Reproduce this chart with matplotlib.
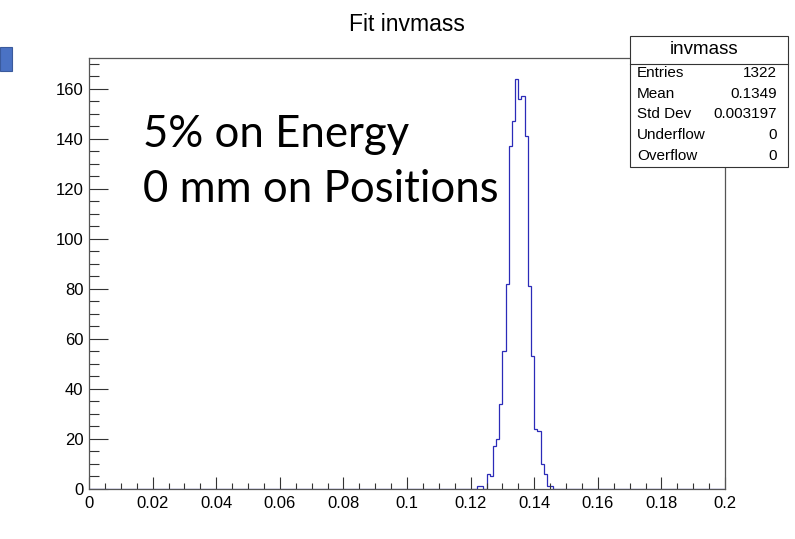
import numpy as np
import matplotlib.pyplot as plt
from matplotlib.ticker import MultipleLocator
from matplotlib.patches import Rectangle

# histogram: 200 bins from 0 to 0.2, only bins near the peak are filled
n_bins = 200
x_low, x_high = 0.0, 0.2
first_filled = 0.122
counts_peak = [1, 1, 0, 6, 5, 17, 20, 34, 55, 82, 137, 147, 164,
               156, 157, 141, 81, 53, 24, 23, 10, 6, 1, 1]

x_ticks = [0, 0.02, 0.04, 0.06, 0.08, 0.1, 0.12, 0.14, 0.16, 0.18, 0.2]
x_tick_labels = ['0', '0.02', '0.04', '0.06', '0.08', '0.1', '0.12',
                 '0.14', '0.16', '0.18', '0.2']
y_ticks = [0, 20, 40, 60, 80, 100, 120, 140, 160]

stat_names = ['Entries', 'Mean', 'Std Dev', 'Underflow', 'Overflow']
stat_values = ['1322', '0.1349', '0.003197', '0', '0']

edges = np.linspace(x_low, x_high, n_bins + 1)
counts = np.zeros(n_bins)
i0 = int(round((first_filled - x_low) / (x_high - x_low) * n_bins))
counts[i0:i0 + len(counts_peak)] = counts_peak

W, H = 795, 539
fig = plt.figure(figsize=(W / 100, H / 100), dpi=100)
ax = fig.add_axes([89 / W, 1 - 489 / H, (725 - 89) / W, (489 - 58) / H])

ax.stairs(counts, edges, color='#2b2bb8', linewidth=0.9)

ax.set_xlim(x_low, x_high)
ax.set_ylim(0, 172.3)

ax.set_xticks(x_ticks)
ax.set_xticklabels(x_tick_labels)
ax.set_yticks(y_ticks)
ax.xaxis.set_minor_locator(MultipleLocator(0.005))
ax.yaxis.set_minor_locator(MultipleLocator(5))

for lab in ax.get_xticklabels() + ax.get_yticklabels():
    lab.set_family('Liberation Sans')
    lab.set_fontsize(12)

ax.tick_params(axis='x', which='major', direction='in', length=8.6, width=0.8,
               color='#333333', pad=5)
ax.tick_params(axis='x', which='minor', direction='in', length=4.3, width=0.8,
               color='#333333')
ax.tick_params(axis='y', which='major', direction='in', length=13.7, width=0.8,
               color='#333333', pad=4)
ax.tick_params(axis='y', which='minor', direction='in', length=7, width=0.8,
               color='#333333')
for s in ax.spines.values():
    s.set_color('#555555')
    s.set_linewidth(0.9)

# title
fig.text(407 / W, 1 - 31 / H, 'Fit invmass', ha='center', va='baseline',
         fontsize=16.5, family='Liberation Sans')

# overlay text
fig.text(143 / W, 1 - 147 / H, '5% on Energy', ha='left', va='baseline',
         fontsize=31.5, family='Lato')
fig.text(143 / W, 1 - 202 / H, '0 mm on Positions', ha='left', va='baseline',
         fontsize=31.5, family='Lato')

# stats box
bx0, bx1, by0, by1 = 630, 788, 36, 167
fig.patches.append(Rectangle((bx0 / W, 1 - by1 / H), (bx1 - bx0) / W,
                             (by1 - by0) / H, transform=fig.transFigure,
                             facecolor='white', edgecolor='#333333',
                             linewidth=0.8, zorder=5))
fig.add_artist(plt.Line2D([bx0 / W, bx1 / W], [1 - 63.5 / H, 1 - 63.5 / H],
                          transform=fig.transFigure, color='#333333',
                          linewidth=0.8, zorder=6))
fig.text(704 / W, 1 - 50 / H, 'invmass', ha='center', va='center',
         fontsize=13.5, family='Liberation Sans', zorder=7)
row_y = [73, 93.5, 114, 135, 155.5]
for name, val, yy in zip(stat_names, stat_values, row_y):
    fig.text(637 / W, 1 - yy / H, name, ha='left', va='center',
             fontsize=11, family='Liberation Sans', zorder=7)
    fig.text(777 / W, 1 - yy / H, val, ha='right', va='center',
             fontsize=11, family='Liberation Sans', zorder=7)

# small blue block at the top left
fig.patches.append(Rectangle((0, 1 - 71 / H), 12 / W, 24 / H,
                             transform=fig.transFigure, facecolor='#4a72c4',
                             edgecolor='#3a5a9c', linewidth=0.8))

fig.savefig('out.png', dpi=100)
